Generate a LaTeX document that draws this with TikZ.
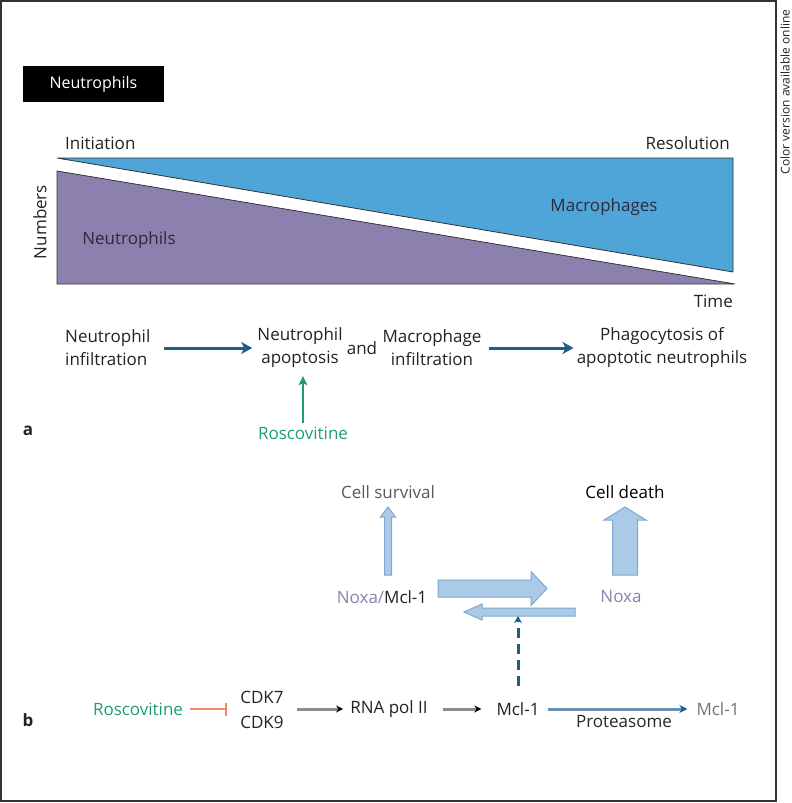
\documentclass[tikz,border=0pt]{standalone}
\usepackage{fontspec}
\setmainfont{Open Sans}
\usepackage{xcolor}
\usepackage{tikz}
\usetikzlibrary{arrows.meta}
\usetikzlibrary{positioning}
\usetikzlibrary{calc}
\definecolor{macblue}{HTML}{50A5D8}
\definecolor{neutpurple}{HTML}{8B80AE}
\definecolor{darkarrow}{HTML}{1B5E8A}
\definecolor{steelarrow}{HTML}{6A90B4}
\definecolor{flowgray}{HTML}{8C8C8C}
\definecolor{roscgreen}{HTML}{1E9E6A}
\definecolor{inhibred}{HTML}{F2876B}
\definecolor{blockfill}{HTML}{AACAE8}
\definecolor{blockline}{HTML}{7FA7CF}
\definecolor{noxatext}{HTML}{8A82A8}
\definecolor{textdark}{HTML}{222222}
\definecolor{labeldark}{HTML}{2B2B3B}
\definecolor{framegray}{HTML}{333333}
\tikzstyle{lbl}=[inner sep=3pt,font=\fontsize{17}{23}\selectfont,text=textdark]
\tikzstyle{flow}=[draw=darkarrow,line width=3pt,-{Stealth[length=11pt,width=12pt,inset=3pt]}]
\tikzstyle{grayflow}=[draw=flowgray,line width=3pt,-{Stealth[length=7pt,width=7pt,color=black]}]
\tikzstyle{blockarrow}=[fill=blockfill,draw=blockline,line width=1pt,line join=miter]
\newcommand*{\upblock}[5]{%
\draw[blockarrow] let \p1=(#1), \p2=(#2) in
  (\x1-#3pt,\y1) -- (\x1-#3pt,\y2-#5pt) -- (\x1-#4pt,\y2-#5pt) -- (\x1,\y2)
  -- (\x1+#4pt,\y2-#5pt) -- (\x1+#3pt,\y2-#5pt) -- (\x1+#3pt,\y1) -- cycle;
}
\newcommand*{\sideblock}[5]{%
\draw[blockarrow] let \p1=(#1), \p2=(#2), \n1={sign(\x2-\x1)} in
  (\x1,\y1+#3pt) -- (\x2-\n1*#5pt,\y1+#3pt) -- (\x2-\n1*#5pt,\y1+#4pt) -- (\x2,\y1)
  -- (\x2-\n1*#5pt,\y1-#4pt) -- (\x2-\n1*#5pt,\y1-#3pt) -- (\x1,\y1-#3pt) -- cycle;
}
\begin{document}
\begin{tikzpicture}[x=1pt,y=-1pt]
\useasboundingbox (0,0) rectangle (792,803);

%frame
\draw[line width=1.5pt,draw=framegray] (1,1) rectangle (776,801);
\node[rotate=90,inner sep=0pt,font=\fontsize{12}{14}\selectfont,text=textdark] (online) at (785,92) {Color version available online};

%title box
\node[fill=black,text=white,minimum width=141pt,minimum height=36pt,inner sep=0pt,font=\fontsize{16}{20}\selectfont] (title) at (93.5,84) {Neutrophils};

%panel a, the two populations
\draw[fill=macblue,draw=framegray,line width=0.8pt] (57,158) -- (733,158) -- (733,272) -- cycle;
\draw[fill=neutpurple,draw=framegray,line width=0.8pt] (57,171) -- (57,284) -- (735,284) -- cycle;

\node[lbl,anchor=west] (init) at (62,143) {Initiation};
\node[lbl,anchor=east] (resol) at (733,143) {Resolution};
\node[lbl,rotate=90] (numbers) at (40,222) {Numbers};
\node[lbl,text=labeldark] (neutlab) at (129,240) {Neutrophils};
\node[lbl,text=labeldark] (maclab) at (604,207) {Macrophages};
\node[lbl,anchor=east] (time) at (736,301) {Time};

%panel a, the sequence
\node[lbl,align=left,anchor=west] (ninf) at (62,348) {Neutrophil\\infiltration};
\node[lbl,align=center] (napo) at (300,348) {Neutrophil\\apoptosis};
\node[lbl] (and) at (362,348) {and};
\node[lbl,align=center] (minf) at (432,348) {Macrophage\\infiltration};
\node[lbl,align=center] (phago) at (662,348) {Phagocytosis of\\apoptotic neutrophils};
\node[lbl,text=roscgreen] (rosa) at (303,433) {Roscovitine};
\node[lbl,font=\fontsize{17}{20}\selectfont\bfseries] (pa) at (28,431) {a};

\draw[flow,shorten <=10pt,shorten >=2pt] (ninf.east |- napo) -- (napo.west);
\draw[flow,shorten <=4pt,shorten >=0pt] (minf.east) -- (phago.west);
\draw[draw=roscgreen,line width=2.5pt,-{Stealth[length=9pt,width=9pt,inset=2pt]},shorten <=0pt,shorten >=5pt] (rosa.north) -- (rosa.north |- napo.south);

%panel b, upper part
\node[lbl,text=black!65] (surv) at (388,492) {Cell survival};
\node[lbl,text=black] (death) at (625,492) {Cell death};
\node[lbl] (noxmcl) at (382,597) {\textcolor{noxatext}{Noxa/}Mcl-1};
\node[lbl,text=noxatext] (noxa) at (621,597) {Noxa};

\coordinate (survb) at (388,575);
\coordinate (survt) at (388,507);
\coordinate (deathb) at (625,575);
\coordinate (deatht) at (625,507);
\coordinate (bindb) at (438,588.5);
\coordinate (bindt) at (547,588.5);
\coordinate (relb) at (575,612);
\coordinate (relt) at (464,612);

\upblock{survb}{survt}{3.5}{7.5}{10}
\upblock{deathb}{deatht}{12.5}{21}{13}
\sideblock{bindb}{bindt}{8.5}{17}{16}
\sideblock{relb}{relt}{4}{8}{18}

%panel b, lower part
\node[lbl,font=\fontsize{17}{20}\selectfont\bfseries] (pb) at (28,720) {b};
\node[lbl,text=roscgreen] (rosb) at (138,709) {Roscovitine};
\node[lbl,align=center,font=\fontsize{17}{25}\selectfont] (cdk) at (262,710) {CDK7\\CDK9};
\node[lbl] (rna) at (389,709) {RNA pol II};
\node[lbl] (mcl) at (518,709) {Mcl-1};
\node[lbl,text=black!55] (mclgone) at (718,709) {Mcl-1};
\node[lbl,text=black!85] (prot) at (624,722) {Proteasome};

\draw[draw=inhibred,line width=2pt,-{Bar[width=13pt,line width=2pt]},shorten <=4pt,shorten >=10pt] (rosb.east) -- (cdk.west |- rosb);
\draw[grayflow,shorten <=10pt,shorten >=4pt] (cdk.east |- rna) -- (rna.west);
\draw[grayflow,shorten <=12pt,shorten >=12pt] (rna.east) -- (mcl.west);
\draw[draw=steelarrow,line width=3pt,-{Stealth[length=8pt,width=8pt,color=darkarrow]},shorten <=5pt,shorten >=6pt] (mcl.east) -- (mclgone.west);
\draw[draw=darkarrow,line width=3pt,dash pattern=on 10pt off 6pt,-{Stealth[length=7pt,width=8pt]},shorten <=13pt,shorten >=4pt] (mcl.north) -- (mcl.north |- relb);

\end{tikzpicture}
\end{document}
